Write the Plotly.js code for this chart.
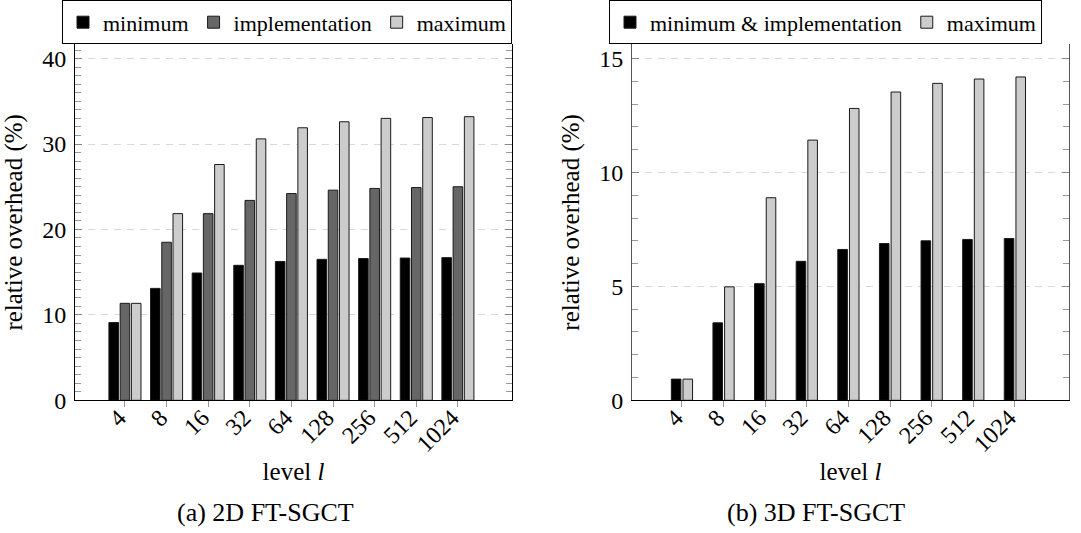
<!DOCTYPE html>
<html>
<head>
<meta charset="utf-8">
<script src="https://cdn.plot.ly/plotly-3.0.1.min.js"></script>
<style>
  html, body { margin: 0; padding: 0; background: #fff; }
  #chart { width: 1081px; height: 533px; }
</style>
</head>
<body>
<div id="chart"></div>
<script>
// ---- data ----
const levels = ['4', '8', '16', '32', '64', '128', '256', '512', '1024'];

// (a) 2D FT-SGCT
const min2D  = [9.1, 13.1, 14.9, 15.8, 16.25, 16.5, 16.6, 16.65, 16.7];
const impl2D = [11.35, 18.5, 21.85, 23.4, 24.2, 24.6, 24.8, 24.9, 25.0];
const max2D  = [11.35, 21.85, 27.6, 30.6, 31.9, 32.6, 33.0, 33.1, 33.2];

// (b) 3D FT-SGCT
const minImpl3D = [0.93, 3.4, 5.12, 6.1, 6.62, 6.88, 7.0, 7.06, 7.1];
const max3D     = [0.93, 4.98, 8.89, 11.42, 12.81, 13.53, 13.91, 14.1, 14.19];

(function () {
const FONT = 'Liberation Serif';
const lineStyle = { color: '#1a1a1a', width: 1 };

function bar(name, x, y, color, xa, ya, offset, legend) {
  return {
    type: 'bar', name: name, x: x, y: y,
    xaxis: xa, yaxis: ya,
    width: 0.23, offset: offset,
    marker: { color: color, line: lineStyle },
    legend: legend,
    hoverinfo: 'skip'
  };
}

const traces = [
  bar('minimum', levels, min2D, '#000000', 'x', 'y', -0.385, 'legend'),
  bar('implementation', levels, impl2D, '#666666', 'x', 'y', -0.115, 'legend'),
  bar('maximum', levels, max2D, '#cccccc', 'x', 'y', 0.155, 'legend'),
  bar('minimum &amp; implementation', levels, minImpl3D, '#000000', 'x2', 'y2', -0.255, 'legend2'),
  bar('maximum', levels, max3D, '#cccccc', 'x2', 'y2', 0.025, 'legend2')
];

const W = 1081, H = 533;
const plotTop = 40.7, plotBottom = 399.3;
const yDomain = [1 - plotBottom / H, 1 - plotTop / H];

function xAxis(domain, anchor) {
  return {
    domain: domain, anchor: anchor,
    type: 'category', range: [-1.2, 9.3],
    showline: true, linecolor: '#000', linewidth: 1,
    ticks: 'outside', ticklen: 6, tickcolor: '#999', tickwidth: 1,
    tickangle: -45,
    ticklabelstandoff: -13, ticklabelshift: -6,
    tickfont: { family: FONT, size: 24, color: '#000' },
    showgrid: false, zeroline: false, fixedrange: true,
    title: { text: 'level <i>l</i>', font: { family: FONT, size: 25, color: '#000' }, standoff: 6 }
  };
}

function yAxis(range, dtick, anchor, linecolor) {
  return {
    domain: yDomain, anchor: anchor,
    range: range, dtick: dtick, tick0: 0,
    showline: true, linecolor: linecolor, linewidth: 1, mirror: 'allticks',
    ticks: 'inside', ticklen: 7, tickcolor: '#888', tickwidth: 1,
    minor: { dtick: 1, ticks: 'inside', ticklen: 6, tickcolor: '#999', showgrid: false },
    tickfont: { family: FONT, size: 24, color: '#000' },
    ticklabelstandoff: 3,
    showgrid: true, gridcolor: '#d9d9d9', griddash: '7px,6px', gridwidth: 1,
    zeroline: false, fixedrange: true,
    title: { text: 'relative overhead (%)', font: { family: FONT, size: 25, color: '#000' }, standoff: 12 }
  };
}

function legendAt(x, xanchor) {
  return {
    orientation: 'h',
    x: x, xanchor: xanchor,
    yanchor: 'bottom', y: 1 - plotTop / H,
    bgcolor: '#fff', bordercolor: '#000', borderwidth: 1,
    font: { family: FONT, size: 22, color: '#000' },
    itemwidth: 30, tracegroupgap: 0,
    itemclick: false, itemdoubleclick: false
  };
}

const layout = {
  width: W, height: H,
  margin: { l: 0, r: 0, t: 0, b: 0 },
  paper_bgcolor: '#fff', plot_bgcolor: '#fff',
  barmode: 'overlay',
  showlegend: true,
  xaxis: xAxis([75 / W, 512 / W], 'y'),
  yaxis: yAxis([0, 41.66], 10, 'x', '#000'),
  xaxis2: xAxis([632 / W, 1069 / W], 'y2'),
  yaxis2: yAxis([0, 15.62], 5, 'x2', '#555'),
  legend: legendAt(287 / W, 'center'),
  legend2: legendAt(609 / W, 'left'),
  annotations: [
    { text: '(a) 2D FT-SGCT', xref: 'paper', yref: 'paper', x: 265 / W, y: 1 - 512 / H,
      xanchor: 'center', yanchor: 'middle', showarrow: false,
      font: { family: FONT, size: 26, color: '#000' } },
    { text: '(b) 3D FT-SGCT', xref: 'paper', yref: 'paper', x: 816 / W, y: 1 - 512 / H,
      xanchor: 'center', yanchor: 'middle', showarrow: false,
      font: { family: FONT, size: 26, color: '#000' } }
  ],
  font: { family: FONT, color: '#000' }
};

Plotly.newPlot('chart', traces, layout, { displayModeBar: false, staticPlot: true });
})();
</script>
</body>
</html>
